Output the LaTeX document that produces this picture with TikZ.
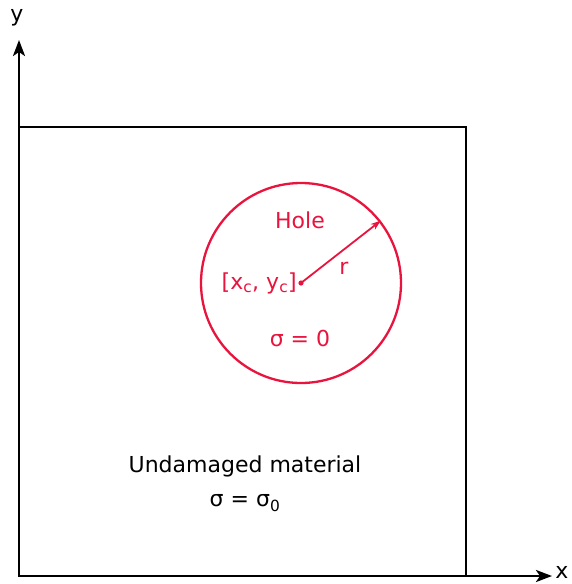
\documentclass[tikz,border=0pt]{standalone}
\usepackage{fontspec}
\setmainfont{DejaVu Sans}
\usetikzlibrary{arrows.meta}
\definecolor{holered}{RGB}{232,20,62}
\begin{document}
\begin{tikzpicture}[x=1pt,y=-1pt,
  axis/.style={line width=2.6pt,-{Stealth[length=16pt,width=12pt,inset=4pt]}},
  edge/.style={line width=2.6pt},
  lbl/.style={font=\fontsize{22}{25}\selectfont,inner sep=0pt},
  rlbl/.style={lbl,text=holered}]
\useasboundingbox (0,0) rectangle (572,584);
\coordinate (o) at (19,576);
\coordinate (ytip) at (19,40);
\coordinate (xtip) at (552,576);
\draw[edge] (19,576) rectangle (466,127);
\draw[axis] (o) -- (ytip);
\draw[axis] (o) -- (xtip);
\node[lbl] (ylab) at (17,18) {y};
\node[lbl] (xlab) at (562,572) {x};
\node[circle,draw=holered,line width=2.3pt,minimum size=200pt,inner sep=0pt] (hole) at (301,283) {};
\fill[holered] (hole.center) circle (2.6pt);
\coordinate (c) at (hole.center);
\draw[holered,line width=1.8pt,-{Stealth[length=10pt,width=7pt]}] (c) -- (hole.38);
\node[rlbl] (holelab) at (300,220) {Hole};
\node[rlbl] (rlab) at (344,268) {r};
\node[rlbl,anchor=east] (cen) at (297,283) {[x\textsubscript{c}, y\textsubscript{c}]};
\node[rlbl] (s0) at (300,338) {σ = 0};
\node[lbl] (und) at (245,466) {Undamaged material};
\node[lbl] (ss) at (245,503) {σ = σ\textsubscript{0}};
\end{tikzpicture}
\end{document}
